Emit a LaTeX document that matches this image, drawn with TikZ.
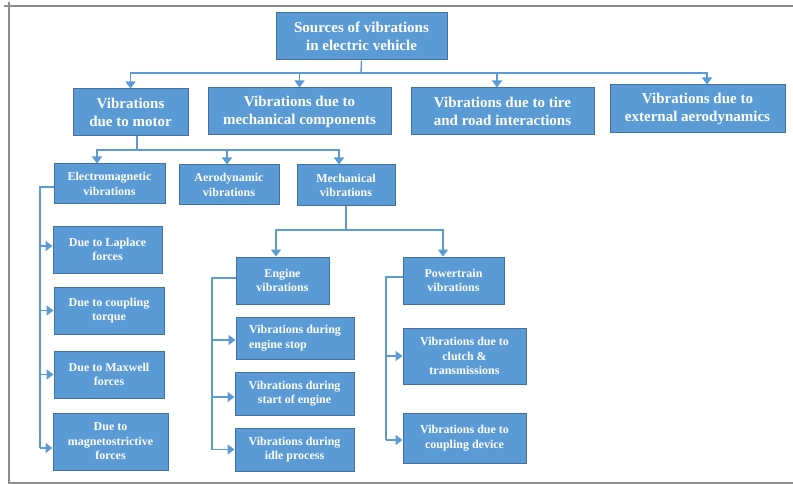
\documentclass[tikz,border=0pt]{standalone}
\usepackage{fontspec}
\setmainfont{Liberation Serif}
\usetikzlibrary{arrows.meta}
\definecolor{boxfill}{HTML}{5B9BD5}
\definecolor{boxline}{HTML}{41719C}
\definecolor{connc}{HTML}{5B9BD5}
\definecolor{frameg}{HTML}{8C8C8C}
\tikzset{
 box/.style={draw=boxline, fill=boxfill, line width=1pt, text=white,
   font=\bfseries\fontsize{12}{14.5}\selectfont, align=center, inner sep=0pt},
 bigbox/.style={box, font=\bfseries\fontsize{15}{18}\selectfont},
 connline/.style={draw=connc, line width=1.4pt},
 arr/.style={connline, -{Triangle[width=10pt,length=7pt]}},
}
\begin{document}
\begin{tikzpicture}[x=1pt,y=-1pt]
\useasboundingbox (0,0) rectangle (793,484);
% frame
\draw[frameg, line width=1.2pt] (793,6) -- (4,6);
\draw[frameg, line width=1.2pt] (9,2) -- (9,483) -- (793,483);

% level 0
\node[bigbox, minimum width=171pt, minimum height=47pt] (root) at (361.5,36.5) {Sources of vibrations\\in electric vehicle};
% level 1
\node[bigbox, minimum width=115pt, minimum height=47pt] (motor) at (130.5,112.5) {Vibrations\\due to motor};
\node[bigbox, minimum width=183pt, minimum height=47pt] (mechcomp) at (299.5,111.5) {Vibrations due to\\mechanical components};
\node[bigbox, minimum width=183pt, minimum height=47pt] (tire) at (502.5,111.5) {Vibrations due to tire\\and road interactions};
\node[bigbox, minimum width=175pt, minimum height=48pt] (aeroext) at (697.5,109) {Vibrations due to\\external aerodynamics};
% level 2
\node[box, minimum width=111pt, minimum height=40pt] (em) at (109.5,184) {Electromagnetic\\vibrations};
\node[box, minimum width=100pt, minimum height=40pt] (aero) at (229,185) {Aerodynamic\\vibrations};
\node[box, minimum width=98pt, minimum height=41pt] (mechvib) at (346,185.5) {Mechanical\\vibrations};
% EM children
\node[box, minimum width=109pt, minimum height=47pt] (laplace) at (107.5,249.5) {Due to Laplace\\forces};
\node[box, minimum width=110pt, minimum height=47pt] (ctorque) at (109,310.5) {Due to coupling\\torque};
\node[box, minimum width=110pt, minimum height=47pt] (maxwell) at (109,374.5) {Due to Maxwell\\forces};
\node[box, minimum width=115pt, minimum height=57pt] (magneto) at (110.5,441.5) {Due to\\magnetostrictive\\forces};
% mechanical children
\node[box, minimum width=93pt, minimum height=47pt] (engine) at (282.5,280.5) {Engine\\vibrations};
\node[box, minimum width=101pt, minimum height=47pt] (powertrain) at (453.5,280.5) {Powertrain\\vibrations};
\node[box, minimum width=118pt, minimum height=42pt, align=left] (estop) at (295,338) {Vibrations during\\engine stop};
\node[box, minimum width=119pt, minimum height=43pt] (estart) at (294.5,393.5) {Vibrations during\\start of engine};
\node[box, minimum width=119pt, minimum height=43pt] (idle) at (294.5,449.5) {Vibrations during\\idle process};
\node[box, minimum width=123pt, minimum height=56pt] (clutch) at (464.5,356) {Vibrations due to\\clutch \&\\transmissions};
\node[box, minimum width=123pt, minimum height=50pt] (coupling) at (464.5,438) {Vibrations due to\\coupling device};

% connectors level 0 -> 1
\coordinate (j0) at (361,73);
\draw[connline] (root.south) -- (j0);
\draw[arr] (j0) -| (motor.north);
\draw[arr] (j0) -| (mechcomp.north);
\draw[arr] (j0) -| ([xshift=-5.5pt]tire.north);
\draw[arr] (j0) -| ([xshift=9.5pt]aeroext.north);
% motor -> level 2
\coordinate (j1) at (137,150);
\draw[connline] (motor.south -| j1) -- (j1);
\draw[arr] (j1) -| ([xshift=-12.5pt]em.north);
\draw[arr] (j1) -| ([xshift=-2pt]aero.north);
\draw[arr] (j1) -| ([xshift=-7pt]mechvib.north);
% EM -> children
\coordinate (e0) at (40,187);
\coordinate (e1) at ([yshift=-6.5pt]magneto.west);
\draw[connline] (em.west |- e0) -- (e0) -- (e0 |- e1);
\draw[arr] (e0 |- laplace.west) ++(0,-3.5) -- ([yshift=3.5pt]laplace.west);
\draw[arr] (e0 |- ctorque.west) -- (ctorque.west);
\draw[arr] (e0 |- maxwell.west) -- (maxwell.west);
\draw[arr] (e0 |- e1) -- (e1);
% mechanical -> engine, powertrain
\coordinate (j2) at (346,230);
\draw[connline] (mechvib.south) -- (j2);
\draw[arr] (j2) -| ([xshift=-6.5pt]engine.north);
\draw[arr] (j2) -| ([xshift=-10.5pt]powertrain.north);
% engine -> children
\coordinate (g0) at (212,278);
\draw[connline] (engine.west |- g0) -- (g0) -- (g0 |- idle.west);
\draw[arr] ([yshift=-2pt]g0 |- estop.west) -- ([yshift=-2pt]estop.west);
\draw[arr] ([yshift=-3.5pt]g0 |- estart.west) -- ([yshift=-3.5pt]estart.west);
\draw[arr] (g0 |- idle.west) -- (idle.west);
% powertrain -> children
\coordinate (p0) at (386,277);
\coordinate (p1) at ([yshift=-2pt]coupling.west);
\draw[connline] (powertrain.west |- p0) -- (p0) -- (p0 |- p1);
\draw[arr] (p0 |- clutch.west) -- (clutch.west);
\draw[arr] (p0 |- p1) -- (p1);
\end{tikzpicture}
\end{document}
